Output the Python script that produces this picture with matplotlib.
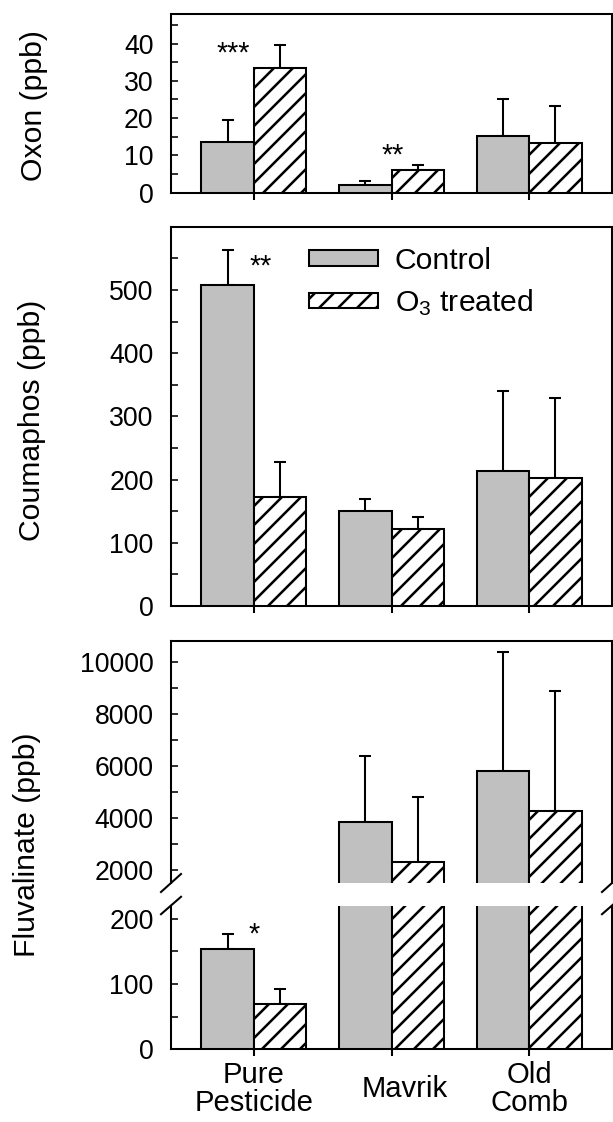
import numpy as np
import matplotlib
matplotlib.use("Agg")
import matplotlib.pyplot as plt
from matplotlib.patches import Patch
from matplotlib.transforms import ScaledTranslation

plt.rcParams['font.family'] = ['Liberation Sans', 'DejaVu Sans']
plt.rcParams['mathtext.fontset'] = 'custom'
plt.rcParams['mathtext.rm'] = 'Liberation Sans'
plt.rcParams['mathtext.it'] = 'Liberation Sans:italic'
plt.rcParams['hatch.linewidth'] = 1.6

# ---- data ----
categories = ['Pure\nPesticide', 'Mavrik', 'Old\nComb']

oxon_ctrl = [13.5, 2.0, 15.1]
oxon_ctrl_err = [6.1, 1.1, 10.0]
oxon_o3 = [33.4, 6.1, 13.3]
oxon_o3_err = [6.1, 1.2, 10.0]

coum_ctrl = [507, 151, 213]
coum_ctrl_err = [56, 18.5, 127]
coum_o3 = [172, 122, 202.5]
coum_o3_err = [56, 18.5, 127]

fluv_ctrl = [153.6, 3860, 5810]
fluv_ctrl_err = [23, 2530, 4585]
fluv_o3 = [70, 2310, 4285]
fluv_o3_err = [23, 2500, 4595]

# significance marks: (text, x, y baseline)
oxon_stars = [('***', 0.85, 35.2), ('**', 2.01, 7.9)]
coum_stars = [('**', 1.05, 524)]
fluv_stars = [('*', 1.0, 163)]

W, H, DPI = 613, 1122, 114
GRAY = '#c0c0c0'
LW = 1.3
BAR_W = 0.38
TICK_FS = 16.8
LABEL_FS = 19.0

fig = plt.figure(figsize=(W / DPI, H / DPI), dpi=DPI)


def px_axes(top, bottom, left=171, right=612):
    return fig.add_axes([left / W, 1 - bottom / H, (right - left) / W, (bottom - top) / H])


def draw_bars(ax, ctrl, ctrl_err, o3, o3_err):
    x = np.arange(1, len(categories) + 1)
    zeros = np.zeros(len(x))
    ax.bar(x - BAR_W / 2, ctrl, BAR_W, color=GRAY, edgecolor='black', linewidth=LW, zorder=3)
    ax.bar(x + BAR_W / 2, o3, BAR_W, color='white', edgecolor='black', hatch='//', linewidth=LW, zorder=3)
    ax.errorbar(x - BAR_W / 2, ctrl, yerr=[zeros, ctrl_err], fmt='none', ecolor='black',
                elinewidth=LW, capsize=3.8, capthick=LW, zorder=2)
    ax.errorbar(x + BAR_W / 2, o3, yerr=[zeros, o3_err], fmt='none', ecolor='black',
                elinewidth=LW, capsize=3.8, capthick=LW, zorder=2)
    ax.set_xlim(0.4, 3.6)


def style_axes(ax, major, minor, xticks=True):
    for s in ax.spines.values():
        s.set_linewidth(LW)
    ax.set_yticks(major)
    ax.set_yticks(minor, minor=True)
    ax.tick_params(axis='y', which='both', direction='in', length=4.4, width=1.0,
                   pad=11.0, labelsize=TICK_FS)
    if xticks:
        ax.set_xticks([1, 2, 3])
        ax.tick_params(axis='x', direction='out', length=4.4, width=LW, labelbottom=False)
    else:
        ax.set_xticks([])


def add_stars(ax, stars):
    for s, x, y in stars:
        ax.text(x, y, s, ha='center', va='baseline', fontsize=18)


# ---- Oxon ----
ax1 = px_axes(13.7, 192.7)
draw_bars(ax1, oxon_ctrl, oxon_ctrl_err, oxon_o3, oxon_o3_err)
ax1.set_ylim(0, 48)
style_axes(ax1, [0, 10, 20, 30, 40], [5, 15, 25, 35, 45])
add_stars(ax1, oxon_stars)

# ---- Coumaphos ----
ax2 = px_axes(226.7, 606)
draw_bars(ax2, coum_ctrl, coum_ctrl_err, coum_o3, coum_o3_err)
ax2.set_ylim(0, 600)
style_axes(ax2, [0, 100, 200, 300, 400, 500], [50, 150, 250, 350, 450, 550])
add_stars(ax2, coum_stars)

handles = [Patch(facecolor=GRAY, edgecolor='black', linewidth=LW),
           Patch(facecolor='white', edgecolor='black', hatch='//', linewidth=LW)]
ax2.legend(handles, ['Control', 'O$_3$ treated'], loc='center left',
           bbox_to_anchor=(0.313, 0.853), frameon=False, fontsize=LABEL_FS,
           handlelength=2.3, handleheight=0.42, handletextpad=0.55,
           labelspacing=0.42, borderpad=0, borderaxespad=0)

# ---- Fluvalinate (broken axis) ----
ax3 = px_axes(640.7, 883)
ax4 = px_axes(905.5, 1049.3)
for ax in (ax3, ax4):
    draw_bars(ax, fluv_ctrl, fluv_ctrl_err, fluv_o3, fluv_o3_err)
ax3.set_ylim(1500, 10830)
ax4.set_ylim(0, 220)
style_axes(ax3, [2000, 4000, 6000, 8000, 10000], [3000, 5000, 7000, 9000], xticks=False)
style_axes(ax4, [0, 100, 200], [50, 150])
ax3.spines['bottom'].set_visible(False)
ax4.spines['top'].set_visible(False)
add_stars(ax4, fluv_stars)

ax4.tick_params(axis='x', labelbottom=True, pad=20.4, labelsize=18.5)
ax4.set_xticklabels(categories)
for lab in ax4.get_xticklabels():
    lab.set_va('center')
    lab.set_linespacing(1.0)
mav = ax4.get_xticklabels()[1]
mav.set_transform(mav.get_transform() + ScaledTranslation(13 / DPI, 0, fig.dpi_scale_trans))

# break marks
dx = 10 / 441
for ax, y0, dy in ((ax3, 0, 9 / 242.3), (ax4, 1, 8.7 / 143.8)):
    for x0 in (0, 1):
        ax.plot([x0 - dx, x0 + dx], [y0 - dy, y0 + dy], transform=ax.transAxes,
                color='black', lw=LW, clip_on=False, zorder=5)

# y labels
fig.text(34 / W, 1 - 106 / H, 'Oxon (ppb)', rotation=90, ha='center', va='center', fontsize=LABEL_FS)
fig.text(32 / W, 1 - 420 / H, 'Coumaphos (ppb)', rotation=90, ha='center', va='center', fontsize=LABEL_FS)
fig.text(27 / W, 1 - 845 / H, 'Fluvalinate (ppb)', rotation=90, ha='center', va='center', fontsize=LABEL_FS)

fig.savefig('out.png', dpi=DPI)
